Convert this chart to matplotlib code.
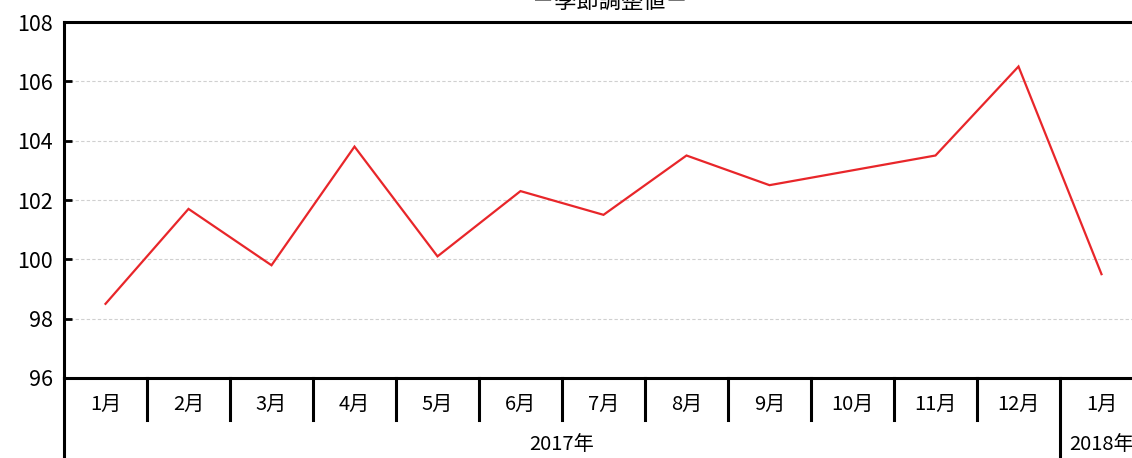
import matplotlib
matplotlib.use("Agg")
import matplotlib.pyplot as plt
import matplotlib.transforms as mtransforms

plt.rcParams['font.family'] = ['Noto Sans CJK JP', 'DejaVu Sans']

months = ["1月", "2月", "3月", "4月", "5月", "6月", "7月", "8月", "9月", "10月", "11月", "12月", "1月"]
values = [98.5, 101.7, 99.8, 103.8, 100.1, 102.3, 101.5, 103.5, 102.5, 103.0, 103.5, 106.5, 99.5]
years = ["2017年", "2018年"]
year_counts = [12, 1]
yticks = [96, 98, 100, 102, 104, 106, 108]
title = "－季節調整値－"

W, H = 1132, 458
fig = plt.figure(figsize=(W / 100, H / 100), dpi=100)
left, right, top, bottom = 64, 1143, 22, 378
ax = fig.add_axes([left / W, (H - bottom) / H, (right - left) / W, (bottom - top) / H])

x = list(range(len(values)))
ax.plot(x, values, color="#e8262a", lw=1.6, solid_joinstyle="miter")
ax.set_xlim(-0.5, len(values) - 0.5)
ax.set_ylim(yticks[0], yticks[-1])
ax.set_yticks(yticks)
ax.set_yticklabels([str(v) for v in yticks], fontsize=15.5)
ax.tick_params(axis="y", direction="in", length=6, width=2, pad=8)
ax.set_xticks([])
for y in yticks[1:-1]:
    ax.axhline(y, color="#d0d0d0", lw=0.8, ls=(0, (3, 2)), zorder=0)
for s in ax.spines.values():
    s.set_linewidth(2.2)
ax.spines["right"].set_visible(False)

trans = mtransforms.blended_transform_factory(ax.transData, ax.transAxes)
ph = bottom - top
sep_short = -42 / ph
sep_long = -(H - bottom + 2) / ph
for i, m in enumerate(months):
    ax.text(i, -26 / ph, m, transform=trans, ha="center", va="center", fontsize=14.5)
boundaries = [0]
for c in year_counts:
    boundaries.append(boundaries[-1] + c)
for i in range(1, len(months)):
    ylow = sep_long if i in boundaries else sep_short
    ax.plot([i - 0.5, i - 0.5], [0, ylow], transform=trans, color="black", lw=2.2, clip_on=False)
ax.plot([-0.5, -0.5], [0, sep_long], transform=trans, color="black", lw=2.2, clip_on=False)
for j, yr in enumerate(years):
    c = (boundaries[j] + boundaries[j + 1] - 1) / 2
    ax.text(c, -67 / ph, yr, transform=trans, ha="center", va="center", fontsize=14.5)

fig.text(610 / W, 1 - 1 / H, title, ha="center", va="center", fontsize=16)

fig.savefig("out.png", dpi=100)
